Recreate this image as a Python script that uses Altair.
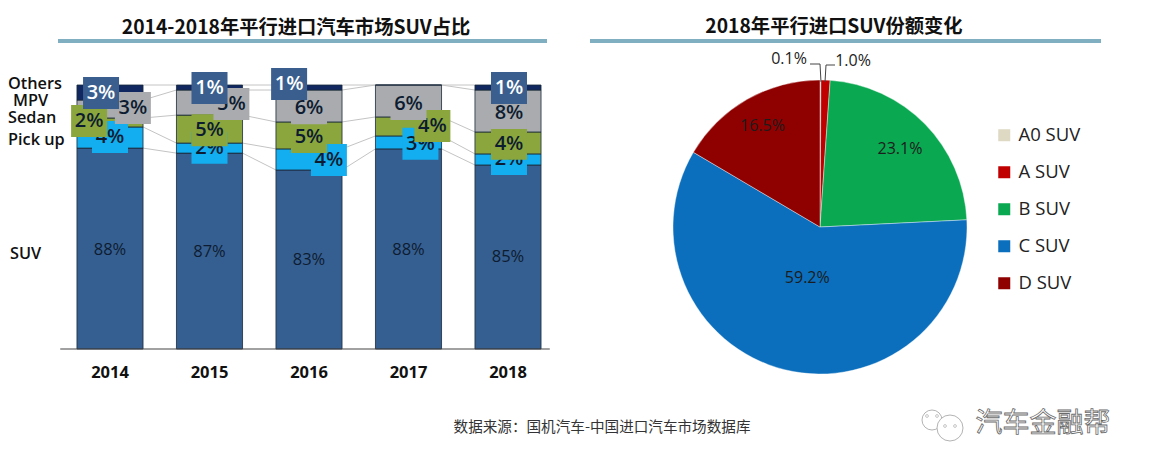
import altair as alt
import pandas as pd

FONT = "Open Sans, Noto Sans CJK SC, sans-serif"
CJK = "Noto Sans CJK SC, sans-serif"

years = [2014, 2015, 2016, 2017, 2018]
series = ["SUV", "Pick up", "Sedan", "MPV", "Others"]
series_colors = ["#365f91", "#12aeef", "#8ba63c", "#a9abae", "#10285f"]
box_colors = ["#12aeef", "#8ba63c", "#a9abae", "#3a5f8f"]

# Segment heights as drawn (share of the plotted height); the picture's bars are not to label scale
suv_h = [76.1, 74.2, 67.8, 75.8, 69.7]
pick_h = [8.0, 3.8, 8.0, 4.9, 4.2]
sedan_h = [3.4, 10.6, 10.2, 7.2, 8.3]
mpv_h = [6.8, 9.5, 12.1, 12.1, 15.9]
others_h = [5.7, 1.9, 1.9, 0.0, 1.9]

# Printed labels
suv_lab = ["88%", "87%", "83%", "88%", "85%"]
suv_lab_y = [37.5, 36.7, 33.6, 37.5, 34.8]
pick_lab = ["4%", "2%", "4%", "3%", "2%"]
pick_dx = [0.0, 0.0, 0.2, 0.12, 0.01]
pick_y = [80.3, 76.2, 71.6, 77.7, 72.0]
sedan_lab = ["2%", "5%", "5%", "4%", "4%"]
sedan_dx = [-0.21, 0.0, 0.0, 0.24, 0.01]
sedan_y = [86.4, 82.9, 80.3, 84.5, 77.7]
mpv_lab = ["3%", "5%", "6%", "6%", "8%"]
mpv_dx = [0.23, 0.22, 0.0, 0.0, 0.01]
mpv_y = [91.3, 92.8, 91.2, 92.8, 89.4]
oth_lab = ["3%", "1%", "1%", "1%"]
oth_years = [2014, 2015, 2016, 2018]
oth_dx = [-0.09, 0.0, -0.2, 0.01]
oth_y = [97.0, 98.9, 100.4, 98.9]

side_names = ["Others", "MPV", "Sedan", "Pick up", "SUV"]
side_y = [100.4, 94.0, 87.5, 79.0, 36.0]
side_x = [0, 5, 0, 0, 2]

pie_names = ["A0 SUV", "A SUV", "B SUV", "C SUV", "D SUV"]
pie_vals = [0.1, 1.0, 23.1, 59.2, 16.5]
pie_text = ["", "", "23.1%", "59.2%", "16.5%"]
pie_colors = ["#ddd9c3", "#c00000", "#0aa851", "#0b6fbd", "#8f0000"]
pie_label_r = [0, 0, 112, 53, 116]

x_scale = alt.Scale(domain=[2014 - 102 / 99.5, 2014 - 102 / 99.5 + 1133 / 99.5], nice=False, zero=False)
y_scale = alt.Scale(domain=[0, 100], range=[341, 77], nice=False, zero=False)
X = lambda f: alt.X(f, scale=x_scale, axis=None)
Y = lambda f: alt.Y(f, scale=y_scale, axis=None)

heights = [suv_h, pick_h, sedan_h, mpv_h, others_h]
rows = []
for i, yr in enumerate(years):
    base = 0.0
    for s, h in zip(series, heights):
        rows.append({"year": yr, "s": s, "y0": base, "y1": base + h[i],
                     "x0": yr - 0.332, "x1": yr + 0.332, "order": series.index(s)})
        base += h[i]
seg = pd.DataFrame(rows)

bars = alt.Chart(seg).mark_rect(stroke="#1b2a3a", strokeWidth=0.8).encode(
    x=X("x0:Q"), x2="x1:Q", y=Y("y0:Q"), y2="y1:Q",
    color=alt.Color("s:N", scale=alt.Scale(domain=series, range=series_colors), legend=None),
)

links = []
for s in series:
    part = seg[seg.s == s].sort_values("year").to_dict("records")
    for a, b in zip(part[:-1], part[1:]):
        links.append({"x": a["x1"], "x2": b["x0"], "y": a["y1"], "y2": b["y1"]})
link_layer = alt.Chart(pd.DataFrame(links)).mark_rule(color="#c4c4c4", strokeWidth=1).encode(
    x=X("x:Q"), x2="x2:Q", y=Y("y:Q"), y2="y2:Q"
)

baseline = alt.Chart(pd.DataFrame({"a": [2013.5], "b": [2018.42], "v": [0]})).mark_rule(
    color="#444444", strokeWidth=1.2
).encode(x=X("a:Q"), x2="b:Q", y=Y("v:Q"))

year_labels = alt.Chart(pd.DataFrame({"year": years, "v": [0] * 5})).mark_text(
    font=FONT, fontSize=16.5, fontWeight="bold", color="#111111", dy=24
).encode(x=X("year:Q"), y=Y("v:Q"), text="year:N")


def boxed(yrs, dx, ys, labels, fill, tcolor):
    df = pd.DataFrame({"c": [a + b for a, b in zip(yrs, dx)], "y": ys, "t": labels})
    box = alt.Chart(df).mark_rect(color=fill, width=36, height=32).encode(x=X("c:Q"), y=Y("y:Q"))
    txt = alt.Chart(df).mark_text(font=FONT, fontSize=20, color=tcolor, fontWeight=600).encode(
        x=X("c:Q"), y=Y("y:Q"), text="t:N"
    )
    return [box, txt]


dark = "#0d1c30"
label_layers = (
    boxed(years, pick_dx, pick_y, pick_lab, box_colors[0], dark)
    + boxed(years, sedan_dx, sedan_y, sedan_lab, box_colors[1], dark)
    + boxed(years, mpv_dx, mpv_y, mpv_lab, box_colors[2], dark)
    + boxed(oth_years, oth_dx, oth_y, oth_lab, box_colors[3], "#ffffff")
)

suv_text = alt.Chart(pd.DataFrame({"year": years, "y": suv_lab_y, "t": suv_lab})).mark_text(
    font=FONT, fontSize=16.5, color=dark, fontWeight=500
).encode(x=X("year:Q"), y=Y("y:Q"), text="t:N")

side = alt.Chart(pd.DataFrame({"n": side_names, "y": side_y, "px": side_x})).mark_text(
    font=FONT, fontSize=16.3, fontWeight=600, color="#111111", align="left"
).encode(x=alt.X("px:Q", scale=None, axis=None), y=Y("y:Q"), text="n:N")

# Pie
pie_df = pd.DataFrame({"n": pie_names, "v": pie_vals, "t": pie_text, "r": pie_label_r, "i": range(5)})
cx, cy = 812, 219
arc = alt.Chart(pie_df).mark_arc(radius=147, stroke="#ffffff", strokeWidth=0.4).encode(
    x=alt.value(cx), y=alt.value(cy),
    theta=alt.Theta("v:Q", stack=True),
    order=alt.Order("i:Q"),
    color=alt.Color("n:N", sort=pie_names, scale=alt.Scale(domain=pie_names, range=pie_colors),
                    legend=alt.Legend(title=None, orient="none", legendX=987, legendY=118,
                                      symbolType="square", symbolSize=144, symbolStrokeWidth=0,
                                      labelFont=FONT, labelFontSize=18.5, labelColor="#222222",
                                      rowPadding=18, labelOffset=5)),
)
pie_labels = alt.Chart(pie_df).transform_stack(
    stack="v", as_=["a0", "a1"], groupby=[], sort=[alt.SortField("i")]
).transform_calculate(mid="(datum.a0 + datum.a1) / 2").mark_text(
    font=FONT, fontSize=16, color="#1c1c1c"
).encode(
    x=alt.value(cx), y=alt.value(cy),
    theta=alt.Theta("mid:Q", stack=None, scale=alt.Scale(domain=[0, sum(pie_vals)], nice=False, zero=False)),
    radius=alt.Radius("r:Q", scale=None),
    text="t:N",
)


def note(px, py, text, size, font=FONT, weight=400, color="#222222", align="center", **kw):
    return alt.Chart(pd.DataFrame({"t": [text]})).mark_text(
        font=font, fontSize=size, fontWeight=weight, color=color, align=align, **kw
    ).encode(x=alt.value(px - 8), y=alt.value(py - 8), text="t:N")


def seg_line(x1, y1, x2, y2, color="#444444", w=1):
    return alt.Chart(pd.DataFrame({"k": [0]})).mark_rule(color=color, strokeWidth=w).encode(
        x=alt.value(x1 - 8), x2=alt.value(x2 - 8), y=alt.value(y1 - 8), y2=alt.value(y2 - 8)
    )


extras = [
    note(296, 28, "2014-2018年平行进口汽车市场SUV占比", 19.3, CJK, 700, "#111111"),
    note(834, 27, "2018年平行进口SUV份额变化", 19.3, CJK, 700, "#111111"),
    seg_line(58, 41, 547, 41, "#7fafc0", 4),
    seg_line(590, 41, 1101, 41, "#7fafc0", 4),
    note(789, 59, "0.1%", 16),
    note(853, 61, "1.0%", 16),
    seg_line(810, 64, 820, 64), seg_line(820, 64, 821, 82),
    seg_line(835, 65, 826, 65), seg_line(826, 65, 825, 82),
    note(602, 428, "数据来源：国机汽车-中国进口汽车市场数据库", 14.6, CJK, 400, "#333333"),
    note(1043, 424, "汽车金融帮", 27, CJK, 400, "#ffffff", stroke="#6a6a6a", strokeWidth=0.8),
]

bubbles = alt.Chart(pd.DataFrame({"px": [924, 942], "py": [412, 420], "s": [400, 676]})).mark_point(
    shape="circle", filled=True, fill="#ffffff", stroke="#aaaaaa", strokeWidth=0.9, opacity=1
).encode(x=alt.X("px:Q", scale=None, axis=None), y=alt.Y("py:Q", scale=None, axis=None),
         size=alt.Size("s:Q", scale=None))
eyes = alt.Chart(pd.DataFrame({"px": [919, 929, 937, 947], "py": [408, 408, 418, 418]})).mark_point(
    shape="circle", filled=False, color="#999999", size=8, strokeWidth=0.8
).encode(x=alt.X("px:Q", scale=None, axis=None), y=alt.Y("py:Q", scale=None, axis=None))

chart = alt.layer(
    link_layer, bars, baseline, year_labels, suv_text, *label_layers, side, arc, pie_labels,
    bubbles, eyes, *extras
).resolve_scale(color="independent", theta="independent", x="shared", y="shared").properties(
    width=1133, height=457, padding=0, autosize=alt.AutoSizeParams(type="none"), background="#ffffff"
).configure_view(stroke=None)

chart.save("out.html", embed_options={"renderer": "svg", "actions": False})
